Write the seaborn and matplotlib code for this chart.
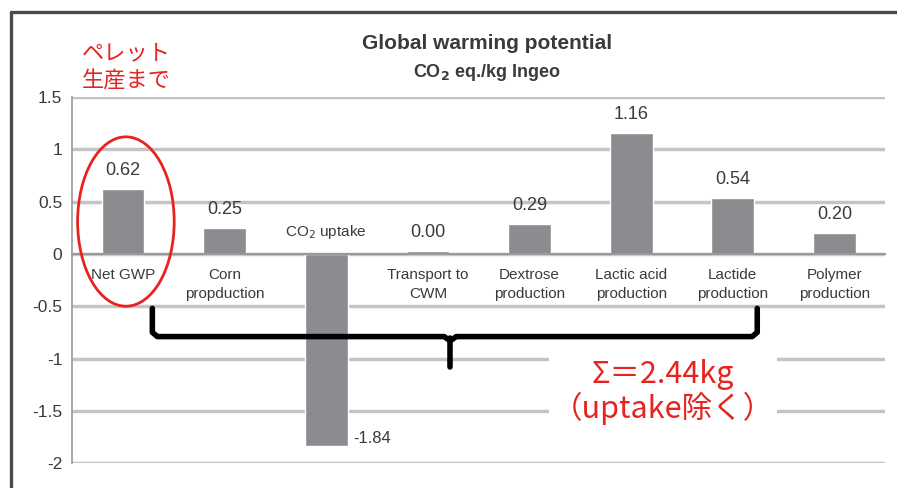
import matplotlib
matplotlib.use("Agg")
import matplotlib.pyplot as plt
from matplotlib.patches import Ellipse
from matplotlib.lines import Line2D
import seaborn as sns
import numpy as np

# data
categories = ["Net GWP", "Corn\npropduction", "CO$_2$ uptake", "Transport to\nCWM",
              "Dextrose\nproduction", "Lactic acid\nproduction", "Lactide\nproduction",
              "Polymer\nproduction"]
values = [0.62, 0.25, -1.84, 0.03, 0.29, 1.16, 0.54, 0.20]
value_labels = ["0.62", "0.25", "-1.84", "0.00", "0.29", "1.16", "0.54", "0.20"]
yticks = [1.5, 1, 0.5, 0, -0.5, -1, -1.5, -2]
ytick_labels = ["1.5", "1", "0.5", "0", "-0.5", "-1", "-1.5", "-2"]

sns.set_style("white")
plt.rcParams['font.family'] = ['Liberation Sans', 'Noto Sans CJK JP', 'DejaVu Sans']

bar_color = "#8c8c90"
grid_color = "#c4c4c4"
text_color = "#3a3a3a"
red = "#e8231f"
cjk = ['Noto Sans CJK JP', 'DejaVu Sans']

fig = plt.figure(figsize=(8.97, 4.88), dpi=100)
ax = fig.add_axes([0.0803, 0.051, 0.9067, 0.75])

ax.set_axisbelow(True)
for t in yticks:
    ax.axhline(t, color=grid_color, lw=2.5, zorder=0)

sns.barplot(x=list(range(len(categories))), y=values, color=bar_color,
            width=0.42, saturation=1, ax=ax, zorder=2)

ax.set_xlim(-0.5, len(categories) - 0.5)
ax.set_ylim(-2, 1.5)
ax.set_yticks(yticks)
ax.set_yticklabels(ytick_labels, fontsize=12.5, color=text_color)
ax.tick_params(axis="y", length=5, color="#999999", pad=2)

# x axis sits at zero, ticks between categories
ax.spines["bottom"].set_position(("data", 0))
ax.spines["bottom"].set_color("#999999")
ax.spines["bottom"].set_linewidth(1.5)
ax.spines["top"].set_visible(False)
ax.spines["right"].set_visible(False)
ax.spines["left"].set_color("#999999")
ax.spines["left"].set_linewidth(1.2)
ax.set_xticks(np.arange(-0.5, len(categories), 1.0), minor=True)
ax.tick_params(axis="x", which="minor", length=4, color="#999999", direction="out")
ax.set_xticks(range(len(categories)))
ax.set_xticklabels([c if i != 2 else "" for i, c in enumerate(categories)],
                   fontsize=11, color=text_color, linespacing=1.45)
ax.tick_params(axis="x", which="major", length=0, pad=10)
ax.text(2, 0.12, categories[2], ha="center", va="bottom", fontsize=11, color=text_color)
ax.set_xlabel("")
ax.set_ylabel("")

# value labels
for i, (v, lab) in enumerate(zip(values, value_labels)):
    if v < 0:
        ax.text(i + 0.27, v + 0.08, lab, ha="left", va="center", fontsize=12, color=text_color)
    else:
        ax.annotate(lab, (i, v), xytext=(0, 7), textcoords="offset points",
                    ha="center", va="bottom", fontsize=13, color=text_color)

# titles
fig.text(0.543, 0.91, "Global warming potential", ha="center", va="center",
         fontsize=15, fontweight="bold", color=text_color)
fig.text(0.543, 0.851, r"CO$_\mathbf{2}$ eq./kg Ingeo", ha="center", va="center",
         fontsize=13, fontweight="bold", color=text_color)

# frame of the slide
fig.add_artist(Line2D([11 / 897, 11 / 897], [0, 1 - 12 / 488], color="#4a4a4a", lw=2.4))
fig.add_artist(Line2D([11 / 897, 1], [1 - 12 / 488, 1 - 12 / 488], color="#4a4a4a", lw=2.4))

# red annotations
ax.add_patch(Ellipse((0.03, 0.31), 0.95, 1.62, fill=False, ec=red, lw=2, zorder=4))
fig.text(0.0914, 0.862, "ペレット\n生産まで", ha="left", va="center", fontsize=16,
         color=red, linespacing=1.3, family=cjk)

# curly brace
bx = [0.29, 0.29, 0.34, 3.16, 3.22, 3.28, 6.19, 6.24, 6.24]
by = [-0.52, -0.75, -0.79, -0.79, -0.83, -0.79, -0.79, -0.75, -0.52]
ax.plot(bx, by, color="black", lw=4, solid_joinstyle="round", solid_capstyle="round",
        zorder=5, clip_on=False)
ax.plot([3.22, 3.22], [-0.80, -1.08], color="black", lw=4, solid_capstyle="round", zorder=5)

ax.text(5.31, -1.32, "Σ＝2.44kg\n（uptake除く）", ha="center", va="center", fontsize=22,
        color=red, linespacing=1.1, family=cjk,
        bbox=dict(facecolor="white", edgecolor="none", pad=2), zorder=6)

fig.savefig("out.png", dpi=100)
